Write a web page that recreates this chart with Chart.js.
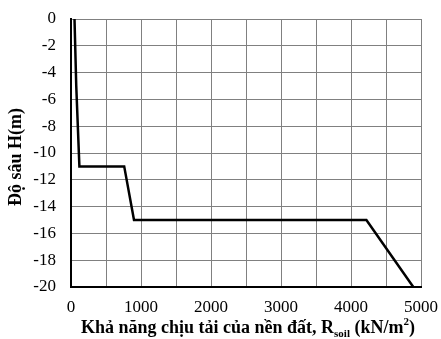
<!DOCTYPE html>
<html>
<head>
<meta charset="utf-8">
<script src="https://cdn.jsdelivr.net/npm/chart.js@4"></script>
<style>
  html, body { margin: 0; padding: 0; background: #fff; }
  #wrap { width: 441px; height: 339px; }
</style>
</head>
<body>
<div id="wrap"><canvas id="graficoSucChiuTai" width="441" height="339"></canvas></div>
<script>
// Sức chịu tải của nền đất theo độ sâu
const sucChiuTai = [50, 75, 120, 760, 900, 4220, 4890];   // kN/m2
const doSau = [0, -5, -11, -11, -15, -15, -20];             // m
const xTicks = [0, 1000, 2000, 3000, 4000, 5000];
const yTitle = 'Độ sâu H(m)';
const xTitleMain = 'Khả năng chịu tải của nền đất, R';
const xTitleSub = 'soil';
const xTitleEnd = ' (kN/m';
const xTitleSup = '2';
const xTitleClose = ')';

const FONT = '"Liberation Serif", "Times New Roman", serif';

// tieu de truc ve tay de co chi so duoi / tren
const titlePlugin = {
    id: 'tieuDeTruc',
    afterDraw(chart) {
        const ctx = chart.ctx;
        ctx.save();
        ctx.fillStyle = '#000';
        ctx.textBaseline = 'alphabetic';

        // truc y
        ctx.font = 'bold 18px ' + FONT;
        ctx.translate(21, 157);
        ctx.rotate(-Math.PI / 2);
        ctx.textAlign = 'center';
        ctx.fillText(yTitle, 0, 0);
        ctx.setTransform(1, 0, 0, 1, 0, 0);

        // truc x
        const big = 'bold 18px ' + FONT;
        const small = 'bold 11px ' + FONT;
        const parts = [
            [xTitleMain, big, 0],
            [xTitleSub, small, 4],
            [xTitleEnd, big, 0],
            [xTitleSup, small, -8],
            [xTitleClose, big, 0]
        ];
        let total = 0;
        parts.forEach(p => { ctx.font = p[1]; total += ctx.measureText(p[0]).width; });
        let x = 248 - total / 2;
        const y = 333;
        ctx.textAlign = 'left';
        parts.forEach(p => {
            ctx.font = p[1];
            ctx.fillText(p[0], x, y + p[2]);
            x += ctx.measureText(p[0]).width;
        });
        ctx.restore();
    }
};

// bo phan dem do nhan truc tran ra ngoai
function khongDem(scale) {
    scale.paddingTop = 0;
    scale.paddingBottom = 0;
    scale.paddingLeft = 0;
    scale.paddingRight = 0;
}

const ctx = document.getElementById('graficoSucChiuTai').getContext('2d');
new Chart(ctx, {
    type: 'scatter',
    data: {
        datasets: [{
            label: 'Rsoil',
            data: sucChiuTai.map((v, i) => ({ x: v, y: doSau[i] })),
            showLine: true,
            borderColor: '#000',
            borderWidth: 2.5,
            pointRadius: 0,
            tension: 0
        }]
    },
    options: {
        responsive: false,
        animation: false,
        devicePixelRatio: 1,
        layout: { padding: { top: 19, right: 20, left: 0, bottom: 0 } },
        plugins: {
            legend: { display: false },
            tooltip: { enabled: false }
        },
        scales: {
            x: {
                type: 'linear',
                min: 0,
                max: 5000,
                afterBuildTicks(scale) {
                    const t = [];
                    for (let v = 0; v <= 5000; v += 500) t.push({ value: v });
                    scale.ticks = t;
                },
                afterFit(scale) { scale.height = 52; khongDem(scale); },
                ticks: {
                    autoSkip: false,
                    maxRotation: 0,
                    padding: 10,
                    color: '#000',
                    font: { family: FONT, size: 17 },
                    callback: v => xTicks.includes(v) ? String(v) : ''
                },
                grid: {
                    color: '#808080',
                    lineWidth: 1,
                    drawTicks: false
                },
                border: { color: '#000', width: 2 }
            },
            y: {
                type: 'linear',
                min: -20,
                max: 0,
                afterFit(scale) { scale.width = 71; khongDem(scale); },
                ticks: {
                    stepSize: 2,
                    padding: 15,
                    color: '#000',
                    font: { family: FONT, size: 17 }
                },
                grid: {
                    color: '#808080',
                    lineWidth: 1,
                    drawTicks: false
                },
                border: { color: '#000', width: 2 }
            }
        }
    },
    plugins: [titlePlugin]
});
</script>
</body>
</html>
